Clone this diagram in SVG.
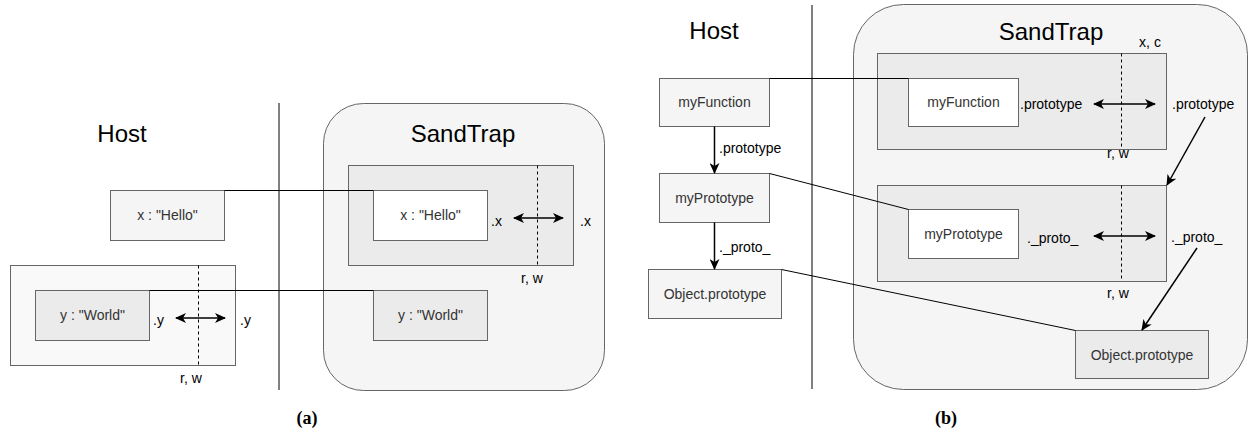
<svg xmlns="http://www.w3.org/2000/svg" width="1249" height="431" viewBox="0 0 1249 431">
<defs>
<style>
.box{stroke:#666666;stroke-width:1}
.f1{fill:#f5f5f5}
.f2{fill:#ebebeb}
.f3{fill:#ffffff}
.f0{fill:#f9f9f9}
.bt{font-family:"Liberation Sans",Arial,sans-serif;font-size:14px;fill:#333333;text-anchor:middle}
.lb{font-family:"Liberation Sans",Arial,sans-serif;font-size:14px;fill:#000000}
.ti{font-family:"Liberation Sans",Arial,sans-serif;font-size:24px;fill:#000000;text-anchor:middle}
.cap{font-family:"Liberation Serif","Times New Roman",serif;font-size:18px;font-weight:bold;fill:#000000;text-anchor:middle}
.ln{stroke:#000000;stroke-width:1;fill:none}
.dash{stroke:#000000;stroke-width:1;stroke-dasharray:3,3;fill:none}
.arr{stroke:#000000;stroke-width:1.5;fill:none;marker-end:url(#ah)}
.darr{stroke:#000000;stroke-width:1.5;fill:none;marker-end:url(#ah);marker-start:url(#ahs)}
</style>
<marker id="ah" viewBox="0 0 11 10" refX="10" refY="5" markerWidth="11" markerHeight="10" orient="auto" markerUnits="userSpaceOnUse">
<path d="M0,0 L11,5 L0,10 L3,5 Z" fill="#000000"/>
</marker>
<marker id="ahs" viewBox="0 0 11 10" refX="1" refY="5" markerWidth="11" markerHeight="10" orient="auto" markerUnits="userSpaceOnUse">
<path d="M11,0 L0,5 L11,10 L8,5 Z" fill="#000000"/>
</marker>
</defs>
<rect width="1249" height="431" fill="#ffffff"/>

<!-- Panel (a) -->
<g id="a-host-title"><text class="ti" x="122" y="142">Host</text></g>
<g id="a-divider"><line x1="279" y1="103" x2="279" y2="390" stroke="#000000" stroke-width="1"/></g>
<g id="a-sandtrap">
<rect class="box f1" x="323.5" y="103.5" width="281" height="287" rx="40" ry="40"/>
<text class="ti" x="463" y="142">SandTrap</text>
</g>
<g id="a-host-x"><rect class="box f1" x="110.5" y="190.5" width="114" height="50"/><text class="bt" x="167.5" y="220">x : "Hello"</text></g>
<g id="a-host-ywrap"><rect class="box f0" x="10.5" y="265.5" width="225" height="100"/></g>
<g id="a-host-y"><rect class="box f2" x="35.5" y="290.5" width="114" height="50"/><text class="bt" x="92.5" y="320">y : "World"</text></g>
<g id="a-st-xwrap"><rect class="box f2" x="348.5" y="165.5" width="225" height="100"/></g>
<g id="a-st-x"><rect class="box f3" x="373.5" y="190.5" width="114" height="50"/><text class="bt" x="430.5" y="220">x : "Hello"</text></g>
<g id="a-st-y"><rect class="box f2" x="373.5" y="290.5" width="114" height="50"/><text class="bt" x="430.5" y="320">y : "World"</text></g>

<g id="a-labels">
<text class="lb" x="491" y="226">.x</text>
<text class="lb" x="580" y="226">.x</text>
<text class="lb" x="532" y="283" text-anchor="middle">r, w</text>
<text class="lb" x="153" y="325">.y</text>
<text class="lb" x="240" y="325">.y</text>
<text class="lb" x="191" y="383" text-anchor="middle">r, w</text>
</g>

<!-- Panel (b) -->
<g id="b-host-title"><text class="ti" x="714" y="39">Host</text></g>
<g id="b-divider"><line x1="812" y1="5" x2="812" y2="389" stroke="#000000" stroke-width="1"/></g>
<g id="b-sandtrap">
<rect class="box f1" x="853.5" y="4.5" width="394" height="385" rx="50" ry="50"/>
<text class="ti" x="1051" y="40">SandTrap</text>
</g>
<g id="b-host-myFunction"><rect class="box f1" x="659.5" y="78.5" width="110" height="48"/><text class="bt" x="714.5" y="107">myFunction</text></g>
<g id="b-host-myPrototype"><rect class="box f1" x="659.5" y="173.5" width="110" height="49"/><text class="bt" x="714.5" y="203">myPrototype</text></g>
<g id="b-host-objproto"><rect class="box f1" x="648.5" y="269.5" width="133" height="49"/><text class="bt" x="715" y="299">Object.prototype</text></g>
<g id="b-st-fnwrap"><rect class="box f2" x="877.5" y="53.5" width="289" height="96"/></g>
<g id="b-st-myFunction"><rect class="box f3" x="908.5" y="78.5" width="110" height="48"/><text class="bt" x="963.5" y="107">myFunction</text></g>
<g id="b-st-protowrap"><rect class="box f2" x="877.5" y="185.5" width="289" height="96"/></g>
<g id="b-st-myPrototype"><rect class="box f3" x="908.5" y="209.5" width="110" height="49"/><text class="bt" x="963.5" y="239">myPrototype</text></g>
<g id="b-st-objproto"><rect class="box f2" x="1075.5" y="330.5" width="133" height="48"/><text class="bt" x="1142" y="360">Object.prototype</text></g>

<g id="b-labels">
<text class="lb" x="719" y="153">.prototype</text>
<text class="lb" x="719" y="252">._proto_</text>
<text class="lb" x="1020" y="109">.prototype</text>
<text class="lb" x="1172" y="109">.prototype</text>
<text class="lb" x="1150" y="47" text-anchor="middle">x, c</text>
<text class="lb" x="1118" y="158" text-anchor="middle">r, w</text>
<text class="lb" x="1027" y="243">._proto_</text>
<text class="lb" x="1171" y="242">._proto_</text>
<text class="lb" x="1118" y="298" text-anchor="middle">r, w</text>
</g>

<g id="captions">
<text class="cap" x="307" y="424">(a)</text>
<text class="cap" x="946" y="424">(b)</text>
</g>

<g id="connectors">
<!-- panel a -->
<polyline class="ln" points="224.5,190.5 373.5,190.5"/>
<polyline class="ln" points="149.5,290.5 373.5,290.5"/>
<line class="dash" x1="537.5" y1="165.5" x2="537.5" y2="265.5"/>
<line class="dash" x1="198.5" y1="265.5" x2="198.5" y2="365.5"/>
<line class="darr" x1="514" y1="218" x2="563" y2="218"/>
<line class="darr" x1="176" y1="318" x2="225" y2="318"/>
<!-- panel b -->
<line class="arr" x1="714.5" y1="126.5" x2="714.5" y2="173"/>
<line class="arr" x1="714.5" y1="222.5" x2="714.5" y2="269"/>
<polyline class="ln" points="769.5,78.5 908.5,78.5"/>
<polyline class="ln" points="769.5,173.5 908.5,209.5"/>
<polyline class="ln" points="781.5,269.5 1075.5,330.5"/>
<line class="dash" x1="1121.5" y1="53.5" x2="1121.5" y2="149.5"/>
<line class="dash" x1="1121.5" y1="185.5" x2="1121.5" y2="281.5"/>
<line class="darr" x1="1094" y1="104" x2="1155" y2="104"/>
<line class="darr" x1="1094" y1="236" x2="1155" y2="236"/>
<line class="arr" x1="1205" y1="117" x2="1167" y2="185"/>
<line class="arr" x1="1197" y1="248" x2="1142" y2="330"/>
</g>
</svg>
